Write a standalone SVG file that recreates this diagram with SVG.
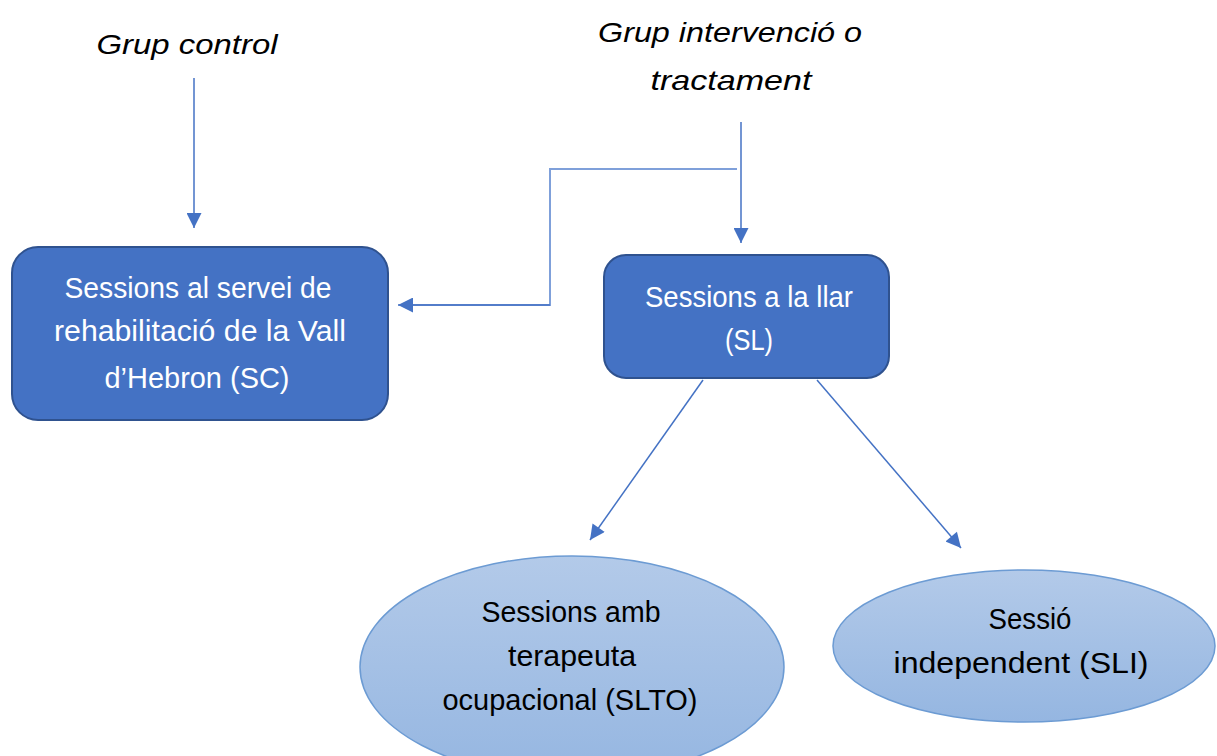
<svg xmlns="http://www.w3.org/2000/svg" width="1217" height="756" viewBox="0 0 1217 756">
<defs>
<style>
.lbl{font-family:"Liberation Sans","Open Sans",sans-serif;font-size:28px;font-style:italic;fill:#000;text-anchor:middle}
.box{fill:#4472C4;stroke:#2F528F;stroke-width:2}
.bt{font-family:"Liberation Sans","Open Sans",sans-serif;font-size:29px;fill:#fff;text-anchor:middle}
.ell{fill:url(#g);stroke:#6C9BD3;stroke-width:1.5}
.et{font-family:"Liberation Sans","Open Sans",sans-serif;font-size:29px;fill:#000;text-anchor:middle}
.con{fill:none;stroke:#4472C4;stroke-width:1.5}
.con2{fill:none;stroke:#7FA0DA;stroke-width:2}
</style>
<linearGradient id="g" x1="0" y1="0" x2="0" y2="1">
<stop offset="0" stop-color="#B3CAE9"/>
<stop offset="1" stop-color="#95B6E1"/>
</linearGradient>
<marker id="ah" viewBox="0 0 10 10" refX="10" refY="5" markerWidth="16" markerHeight="15" markerUnits="userSpaceOnUse" orient="auto">
<path d="M0,0 L10,5 L0,10 z" fill="#4472C4"/>
</marker>
</defs>
<g id="grup-control">
<text class="lbl" x="187" y="54" textLength="181" lengthAdjust="spacingAndGlyphs">Grup control</text>
</g>
<g id="grup-intervencio">
<text class="lbl" x="730" y="42" textLength="264" lengthAdjust="spacingAndGlyphs">Grup intervenció o</text>
<text class="lbl" x="731" y="90" textLength="161" lengthAdjust="spacingAndGlyphs">tractament</text>
</g>
<g id="sc">
<rect class="box" x="12" y="247" width="376" height="173" rx="26"/>
<text class="bt" x="198" y="298" textLength="267" lengthAdjust="spacingAndGlyphs">Sessions al servei de</text>
<text class="bt" x="200" y="341" textLength="292" lengthAdjust="spacingAndGlyphs">rehabilitació de la Vall</text>
<text class="bt" x="197" y="388" textLength="185" lengthAdjust="spacingAndGlyphs">d’Hebron (SC)</text>
</g>
<g id="sl">
<rect class="box" x="604" y="255" width="285" height="123" rx="22"/>
<text class="bt" x="749" y="307" textLength="208" lengthAdjust="spacingAndGlyphs">Sessions a la llar</text>
<text class="bt" x="749" y="350" textLength="48" lengthAdjust="spacingAndGlyphs">(SL)</text>
</g>
<g id="slto">
<ellipse class="ell" cx="572" cy="667" rx="212" ry="111"/>
<text class="et" x="571" y="622" textLength="179" lengthAdjust="spacingAndGlyphs">Sessions amb</text>
<text class="et" x="572" y="666" textLength="128" lengthAdjust="spacingAndGlyphs">terapeuta</text>
<text class="et" x="570" y="710" textLength="255" lengthAdjust="spacingAndGlyphs">ocupacional (SLTO)</text>
</g>
<g id="sli">
<ellipse class="ell" cx="1024" cy="646" rx="191" ry="76"/>
<text class="et" x="1030" y="629" textLength="83" lengthAdjust="spacingAndGlyphs">Sessió</text>
<text class="et" x="1021" y="673" textLength="255" lengthAdjust="spacingAndGlyphs">independent (SLI)</text>
</g>
<g id="connectors">
<path class="con" d="M194,78 L194,228" marker-end="url(#ah)"/>
<path class="con" d="M741,122 L741,243" marker-end="url(#ah)"/>
<path class="con2" d="M737,169 L550,169 L550,305 L412,305"/>
<path class="con" d="M550,305 L398,305" marker-end="url(#ah)"/>
<path class="con" d="M703,380 L590,540" marker-end="url(#ah)"/>
<path class="con" d="M817,380 L961,548" marker-end="url(#ah)"/>
</g>
</svg>
